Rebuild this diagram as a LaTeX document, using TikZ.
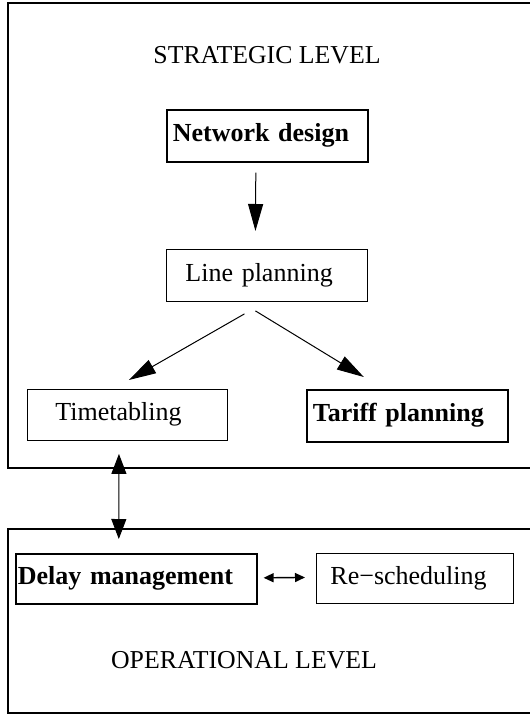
\documentclass[tikz,border=0pt]{standalone}
\usepackage{fontspec}
\setmainfont{Liberation Serif}
\usetikzlibrary{arrows.meta,calc}
\begin{document}
\begin{tikzpicture}[x=1pt,y=-1pt,
  every node/.style={font=\fontsize{26}{30}\selectfont},
  frame/.style={draw, line width=1.2pt},
  levelname/.style={font=\fontsize{25.8}{30}\selectfont},
  plainbox/.style={draw, line width=0.9pt, anchor=north west, align=left,
    inner ysep=0pt, execute at begin node=\strut},
  strongbox/.style={plainbox, line width=1.6pt,
    font=\fontsize{26}{30}\selectfont\bfseries},
  bigarrow/.style={-{Triangle[length=27pt,width=15pt]}, line width=1pt},
  linkarrow/.style={{Triangle[length=20pt,width=15pt]}-{Triangle[length=20pt,width=15pt]}, line width=1pt},
  smallarrow/.style={{Triangle[length=10pt,width=9pt]}-{Triangle[length=10pt,width=9pt]}, line width=1.4pt}
]
\useasboundingbox (0,0) rectangle (530,715);
\fill[white] (0,0) rectangle (530,715);

% the two planning levels
\draw[frame] (8,3) rectangle (545,468);
\draw[frame] (8,529) rectangle (545,713);
\node[levelname] (strat) at (267,55) {STRATEGIC LEVEL};
\node[levelname] (oper) at (244,660) {OPERATIONAL LEVEL};

% planning steps
\node[strongbox, inner xsep=6pt, text width=189pt, minimum height=52pt] (nd) at (166,109) {Network design};
\node[plainbox, inner xsep=19pt, text width=163pt, minimum height=52pt] (lp) at (166,249) {Line planning};
\node[plainbox, inner xsep=28pt, text width=144pt, minimum height=51pt] (tt) at (27,389) {Timetabling};
\node[strongbox, inner xsep=6pt, text width=189pt, minimum height=52pt] (tp) at (306,389) {Tariff planning};
\node[strongbox, inner xsep=2pt, text width=237pt, minimum height=50pt] (dm) at (15,553) {Delay management};
\node[plainbox, inner xsep=14pt, text width=169pt, minimum height=50pt] (rs) at (316,553) {Re−scheduling};

% dependencies
\draw[bigarrow] ($(nd.south)+(-11.5,10)$) -- ($(lp.north)+(-11.5,-18)$);
\draw[bigarrow] ($(lp.south)+(-22.5,12)$) -- ($(tt.north)+(1.5,-9)$);
\draw[bigarrow] ($(lp.south)+(-11.5,9)$) -- ($(tp.north)+(-43.5,-12)$);
\draw[linkarrow] ($(tt.south)+(-8.5,13)$) -- ($(dm.north)+(-17.5,-14)$);
\draw[smallarrow] ($(dm.east)+(6,-1)$) -- ($(rs.west)+(-11,-1)$);
\end{tikzpicture}
\end{document}
